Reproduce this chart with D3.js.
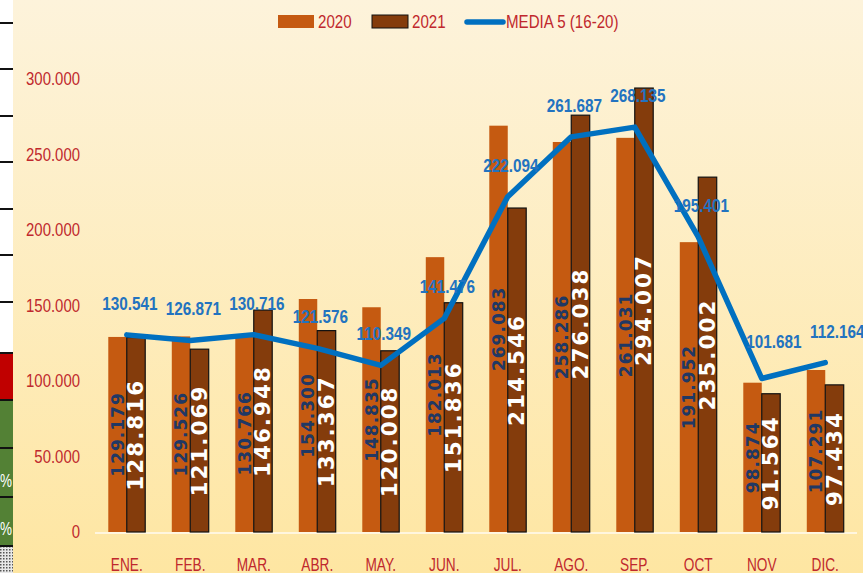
<!DOCTYPE html>
<html>
<head>
<meta charset="utf-8">
<script src="https://cdn.jsdelivr.net/npm/d3@7"></script>
<style>
    body { margin: 0; padding: 0; overflow: hidden; }
    svg { display: block; }
</style>
</head>
<body>
<div id="chart"></div>
<script>
"use strict";

var months = ["ENE.", "FEB.", "MAR.", "ABR.", "MAY.", "JUN.", "JUL.", "AGO.", "SEP.", "OCT", "NOV", "DIC."];
var values2020 = [129179, 129526, 130766, 154300, 148835, 182013, 269083, 258286, 261031, 191952, 98874, 107291];
var values2021 = [128816, 121069, 146948, 133367, 120008, 151836, 214546, 276038, 294007, 235002, 91564, 97434];
var media = [130541, 126871, 130716, 121576, 110349, 141476, 222094, 261687, 268135, 195401, 101681, 112164];
var yTicks = [0, 50000, 100000, 150000, 200000, 250000, 300000];
var seriesNames = ["2020", "2021"];
var legendLabels = ["2020", "2021", "MEDIA 5 (16-20)"];

var width = 863, height = 573;
var margin = { top: 79, bottom: 41, left: 95, right: 6 };
var colors = { "2020": "#C55A11", "2021": "#843C0C" };
var lineColor = "#0070C0";
var axisColor = "#C0282D";
// Calibri is not around, so Liberation Sans gets squeezed sideways
var sans = "'Liberation Sans', Arial, sans-serif";

var locale = d3.formatLocale({ decimal: ",", thousands: ".", grouping: [3], currency: ["", ""] });
var fmt = locale.format(",");

var svg = d3.select("#chart").append("svg")
    .attr("width", width)
    .attr("height", height);

var defs = svg.append("defs");
var grad = defs.append("linearGradient")
    .attr("id", "bg")
    .attr("x1", 0).attr("y1", 0).attr("x2", 0).attr("y2", 1);
grad.append("stop").attr("offset", "0%").attr("stop-color", "#FDF3DB");
grad.append("stop").attr("offset", "100%").attr("stop-color", "#FEE6A2");

var dots = defs.append("pattern")
    .attr("id", "dots")
    .attr("width", 3).attr("height", 3)
    .attr("patternUnits", "userSpaceOnUse");
dots.append("rect").attr("width", 3).attr("height", 3).attr("fill", "#e8e8e8");
dots.append("rect").attr("width", 1.5).attr("height", 1.5).attr("fill", "#555");

// background of the chart area
svg.append("rect")
    .attr("x", 13).attr("y", 0)
    .attr("width", width - 13).attr("height", height)
    .attr("fill", "url(#bg)");

// strip of the neighbouring table, cut off on the left
var strip = svg.append("g");
strip.append("rect").attr("x", 0).attr("y", 0).attr("width", 13).attr("height", height).attr("fill", "#fff");
strip.append("rect").attr("x", 0).attr("y", 353).attr("width", 13).attr("height", 47).attr("fill", "#C00000");
strip.append("rect").attr("x", 0).attr("y", 400).attr("width", 13).attr("height", 146).attr("fill", "#538135");
strip.append("rect").attr("x", 0).attr("y", 546).attr("width", 13).attr("height", 27).attr("fill", "url(#dots)");
strip.selectAll("line")
    .data([23, 69, 116, 162, 209, 255, 302, 353, 400, 448, 497, 546])
    .enter()
    .append("line")
    .attr("x1", 0).attr("x2", 13)
    .attr("y1", function (d) { return d; })
    .attr("y2", function (d) { return d; })
    .attr("stroke", "#111")
    .attr("stroke-width", 2);
strip.selectAll("text")
    .data([487, 535])
    .enter()
    .append("text")
    .attr("transform", function (d) { return "translate(12," + d + ") scale(0.75,1)"; })
    .attr("text-anchor", "end")
    .style("font-family", sans)
    .style("font-size", "18px")
    .attr("fill", "#fff")
    .text("%");

var x = d3.scaleBand()
    .domain(months)
    .range([margin.left, width - margin.right])
    .padding(0);
var x1 = d3.scaleBand()
    .domain(seriesNames)
    .range([0, x.bandwidth()])
    .paddingInner(0)
    .paddingOuter(0.72);
var y = d3.scaleLinear()
    .domain([0, 300000])
    .range([height - margin.bottom, margin.top]);

var rows = months.map(function (m, i) {
    return { month: m, values: [
        { name: "2020", value: values2020[i] },
        { name: "2021", value: values2021[i] }
    ] };
});

// y axis labels only, no line or grid
var yAxis = d3.axisLeft(y).tickValues(yTicks).tickFormat(fmt).tickSize(0).tickPadding(0);
var yg = svg.append("g")
    .attr("transform", "translate(80,0)")
    .call(yAxis);
yg.select(".domain").remove();
yg.selectAll("text")
    .attr("transform", "scale(0.83,1)")
    .style("font-family", sans)
    .style("font-size", "18px")
    .attr("fill", axisColor);

var xAxis = d3.axisBottom(x).tickSize(0).tickPadding(0);
var xg = svg.append("g")
    .attr("transform", "translate(0," + (height - margin.bottom) + ")")
    .call(xAxis);
xg.select(".domain").remove();
xg.selectAll("text")
    .attr("y", 39)
    .attr("dy", 0)
    .attr("transform", "scale(0.76,1)")
    .style("font-family", sans)
    .style("font-size", "18px")
    .attr("fill", axisColor);

// light base line under the bars
svg.append("line")
    .attr("x1", margin.left).attr("x2", width - margin.right)
    .attr("y1", y(0) + 1).attr("y2", y(0) + 1)
    .attr("stroke", "#fff6df")
    .attr("stroke-width", 2);

var groups = svg.append("g").selectAll("g")
    .data(rows)
    .enter()
    .append("g")
    .attr("transform", function (d) { return "translate(" + x(d.month) + ",0)"; });

groups.selectAll("rect")
    .data(function (d) { return d.values; })
    .enter()
    .append("rect")
    .attr("x", function (d) { return x1(d.name); })
    .attr("y", function (d) { return y(d.value); })
    .attr("width", x1.bandwidth())
    .attr("height", function (d) { return y(0) - y(d.value); })
    .attr("fill", function (d) { return colors[d.name]; })
    .attr("stroke", function (d) { return d.name === "2021" ? "#111" : "none"; })
    .attr("stroke-width", 1.2);

// values written inside the bars, turned upright
groups.selectAll("text")
    .data(function (d) { return d.values; })
    .enter()
    .append("text")
    .attr("transform", function (d) {
        var cx = x1(d.name) + x1.bandwidth() / 2;
        var cy = (y(d.value) + y(0)) / 2;
        return "translate(" + cx + "," + cy + ") rotate(-90)";
    })
    .attr("text-anchor", "middle")
    .attr("dominant-baseline", "central")
    .style("font-family", "'DejaVu Sans', Verdana, sans-serif")
    .style("font-weight", "bold")
    .style("font-size", function (d) { return d.name === "2021" ? "21.5px" : "17px"; })
    .style("letter-spacing", function (d) { return d.name === "2021" ? "2px" : "1px"; })
    .attr("fill", function (d) { return d.name === "2021" ? "#ffffff" : "#203864"; })
    .text(function (d) { return fmt(d.value); });

var line = d3.line()
    .x(function (d, i) { return x(months[i]) + x.bandwidth() / 2; })
    .y(function (d) { return y(d); });

svg.append("path")
    .datum(media)
    .attr("d", line)
    .attr("fill", "none")
    .attr("stroke", lineColor)
    .attr("stroke-width", 5.5)
    .attr("stroke-linejoin", "round")
    .attr("stroke-linecap", "round");

svg.append("g").selectAll("text")
    .data(media)
    .enter()
    .append("text")
    .attr("transform", function (d, i) {
        var lx = x(months[i]) + x.bandwidth() / 2 + (i >= 10 ? 12 : 3);
        var ly = y(d) - (i === 10 ? 30 : 25);
        return "translate(" + lx + "," + ly + ") scale(0.85,1)";
    })
    .attr("text-anchor", "middle")
    .style("font-family", sans)
    .style("font-weight", "bold")
    .style("font-size", "18px")
    .attr("fill", "#2273C0")
    .text(function (d) { return fmt(d); });

// legend
var legend = svg.append("g");
var legendX = [278, 372, 465];
legendLabels.forEach(function (label, i) {
    var g = legend.append("g").attr("transform", "translate(" + legendX[i] + ",0)");
    var tx = 40;
    if (i < 2) {
        g.append("rect")
            .attr("x", 0).attr("y", 15)
            .attr("width", 36).attr("height", 13)
            .attr("fill", colors[seriesNames[i]])
            .attr("stroke", i === 1 ? "#111" : "none");
    } else {
        g.append("line")
            .attr("x1", 2).attr("x2", 38)
            .attr("y1", 22).attr("y2", 22)
            .attr("stroke", lineColor)
            .attr("stroke-width", 5.5)
            .attr("stroke-linecap", "round");
        tx = 41;
    }
    g.append("text")
        .attr("transform", "translate(" + tx + ",28) scale(0.84,1)")
        .style("font-family", sans)
        .style("font-size", "18px")
        .attr("fill", axisColor)
        .text(label);
});
</script>
</body>
</html>
